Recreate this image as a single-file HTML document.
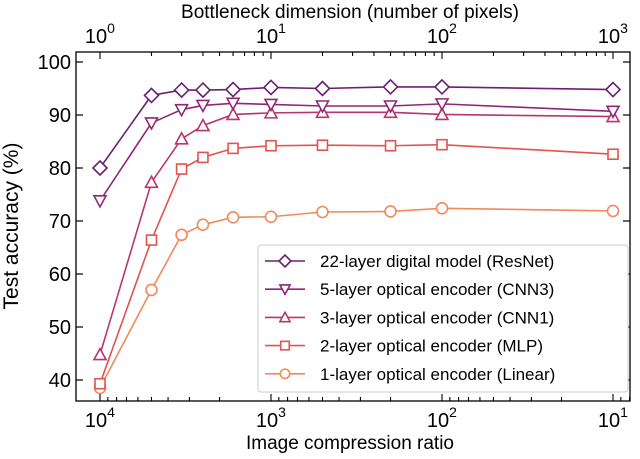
<!DOCTYPE html>
<html><head><meta charset="utf-8"><style>
html,body{margin:0;padding:0;background:#fff}
svg{display:block;font-family:"Liberation Sans",sans-serif}
</style></head><body>
<svg id="chart" width="640" height="459" viewBox="0 0 640 459">
<rect width="640" height="459" fill="#fff"/>
<g id="marks"></g>
<rect x="76" y="52" width="554" height="349" fill="none" stroke="#000" stroke-width="1.3"/>
<g id="axes"></g>
<text x="350" y="18" text-anchor="middle" font-size="19">Bottleneck dimension (number of pixels)</text>
<text x="350" y="449" text-anchor="middle" font-size="19">Image compression ratio</text>
<text transform="translate(18,226) rotate(-90)" text-anchor="middle" font-size="21">Test accuracy (%)</text>
<g id="legend">
<rect x="258" y="245" width="370" height="147" rx="3" fill="#fff" stroke="#ccc" stroke-width="1"/>
</g>
</svg>
<script>
const dims = [1, 2, 3, 4, 6, 10, 20, 50, 100, 1000];
const resnet = [80.0, 93.7, 94.7, 94.7, 94.8, 95.2, 95.0, 95.3, 95.3, 94.8];
const cnn3 = [73.8, 88.5, 91.0, 91.8, 92.2, 92.0, 91.7, 91.7, 92.1, 90.7];
const cnn1 = [44.8, 77.3, 85.5, 88.0, 90.1, 90.4, 90.5, 90.5, 90.1, 89.7];
const mlp = [39.3, 66.4, 79.8, 82.0, 83.7, 84.2, 84.3, 84.2, 84.4, 82.6];
const linear = [38.5, 57.0, 67.4, 69.3, 70.7, 70.8, 71.7, 71.8, 72.4, 71.9];
const seriesNames = ["22-layer digital model (ResNet)","5-layer optical encoder (CNN3)","3-layer optical encoder (CNN1)","2-layer optical encoder (MLP)","1-layer optical encoder (Linear)"];
const yTicks = [40, 50, 60, 70, 80, 90, 100];
const topTickExps = [0, 1, 2, 3];
const bottomTickExps = [4, 3, 2, 1];

const NS = "http://www.w3.org/2000/svg";
const xOf = d => 100 + 171 * Math.log10(d);
const yOf = v => 380 - (v - 40) * 5.3;
const xComp = c => xOf(10000 / c);
function mk(tag, attrs, parent){const e=document.createElementNS(NS,tag);for(const k in attrs)e.setAttribute(k,attrs[k]);parent.appendChild(e);return e;}
const axes = document.getElementById('axes');
const marks = document.getElementById('marks');
const legend = document.getElementById('legend');

yTicks.forEach(v=>{
  const y=yOf(v);
  const t1=mk('line',{x1:76,x2:83,y1:y,y2:y,stroke:'#000','stroke-width':1.2},axes);
  
  
  mk('line',{x1:623,x2:630,y1:y,y2:y,stroke:'#000','stroke-width':1.2},axes);
  const t=mk('text',{x:71,y:y+7,'text-anchor':'end','font-size':20},axes);
  t.textContent=v;
  
  
});
for(let e=0;e<=3;e++){for(let k=1;k<10;k++){const d=k*Math.pow(10,e);const x=xOf(d);if(x<76||x>630)continue;
  mk('line',{x1:x,x2:x,y1:52,y2:52+(k==1?7:4),stroke:'#000','stroke-width':1.1},axes);}}
topTickExps.forEach(e=>{
  const x=xOf(Math.pow(10,e));
  const t=mk('text',{x:x-4,y:43,'text-anchor':'middle','font-size':20},axes);
  t.textContent='10';
  
  
  const s=mk('text',{x:x+11,y:33,'text-anchor':'middle','font-size':14},axes);s.textContent=e;
});
for(let e=0;e<=4;e++){for(let k=1;k<10;k++){const c=k*Math.pow(10,e);const x=xComp(c);if(x<76||x>630)continue;
  mk('line',{x1:x,x2:x,y1:401,y2:401-(k==1?7:4),stroke:'#000','stroke-width':1.1},axes);}}
bottomTickExps.forEach(e=>{
  const x=xComp(Math.pow(10,e));
  const t=mk('text',{x:x-4,y:427,'text-anchor':'middle','font-size':20},axes);
  t.textContent='10';
  
  
  const s=mk('text',{x:x+11,y:417,'text-anchor':'middle','font-size':14},axes);s.textContent=e;
});

const colors=['#6b1f73','#8f2776','#b8356e','#e0534f','#f08a5d'];
const shapes=['diamond','tdown','tup','square','circle'];
function marker(shape,x,y,c,parent,s){
  s=s||1;const a={fill:'#fff',stroke:c,'stroke-width':1.6};let e;
  if(shape=='diamond'){a.points=`${x},${y-7*s} ${x+7*s},${y} ${x},${y+7*s} ${x-7*s},${y}`;e=mk('polygon',a,parent);}
  else if(shape=='tdown'){a.points=`${x-6*s},${y-5*s} ${x+6*s},${y-5*s} ${x},${y+6*s}`;e=mk('polygon',a,parent);}
  else if(shape=='tup'){a.points=`${x-6*s},${y+5*s} ${x+6*s},${y+5*s} ${x},${y-6*s}`;e=mk('polygon',a,parent);}
  else if(shape=='square'){a.x=x-5*s;a.y=y-5*s;a.width=10*s;a.height=10*s;e=mk('rect',a,parent);}
  else {a.cx=x;a.cy=y;a.r=5.5*s;e=mk('circle',a,parent);}
  return e;
}
const allSeries=[resnet,cnn3,cnn1,mlp,linear];
for(let i=allSeries.length-1;i>=0;i--){
  const vals=allSeries[i];const c=colors[i];
  const g=mk('g',{},marks);
  
  
  const pts=vals.map((v,j)=>xOf(dims[j])+','+yOf(v)).join(' ');
  mk('polyline',{points:pts,fill:'none',stroke:c,'stroke-width':1.6},g);
  vals.forEach((v,j)=>{
    const m=marker(shapes[i],xOf(dims[j]),yOf(v),c,g);
    
    
  });
}
seriesNames.forEach((n,i)=>{
  const y=261+i*28.2;const c=colors[i];
  const g=mk('g',{},legend);
  
  
  mk('line',{x1:265,x2:305,y1:y,y2:y,stroke:c,'stroke-width':1.6},g);
  marker(shapes[i],285,y,c,g,0.85);
  const t=mk('text',{x:320,y:y+6,'font-size':17},g);t.textContent=n;
});
</script>
</body></html>
